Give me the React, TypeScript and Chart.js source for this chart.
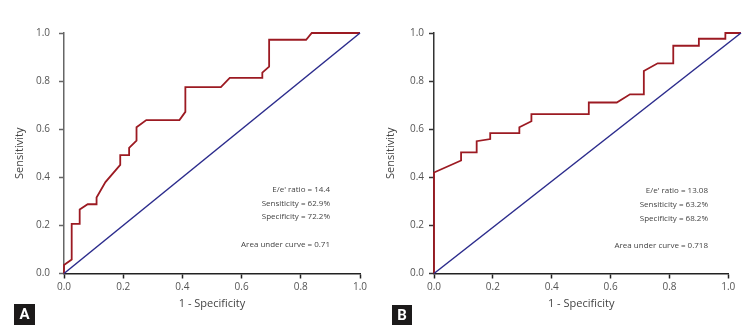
import React, { useEffect, useRef } from 'react';
import { Chart, registerables } from 'chart.js';

Chart.register(...registerables);

// ---- data ----
const axisTicks = [0, 0.2, 0.4, 0.6, 0.8, 1.0];

const rocAx = [0, 0, 0.026, 0.026, 0.053, 0.053, 0.08, 0.11, 0.11, 0.14, 0.19, 0.19, 0.22, 0.22, 0.245, 0.245, 0.278, 0.39, 0.41, 0.41, 0.53, 0.56, 0.67, 0.67, 0.693, 0.693, 0.818, 0.837, 1.0];
const rocAy = [0, 0.035, 0.058, 0.206, 0.206, 0.266, 0.288, 0.288, 0.316, 0.38, 0.452, 0.492, 0.492, 0.522, 0.552, 0.608, 0.638, 0.638, 0.672, 0.775, 0.775, 0.813, 0.813, 0.835, 0.86, 0.972, 0.972, 1.0, 1.0];
const diagAx = [0, 1.0];
const diagAy = [0, 1.0];

const rocBx = [0, 0, 0.092, 0.092, 0.145, 0.145, 0.191, 0.191, 0.29, 0.29, 0.331, 0.331, 0.526, 0.526, 0.621, 0.666, 0.713, 0.713, 0.76, 0.813, 0.813, 0.9, 0.9, 0.99, 0.99, 1.043];
const rocBy = [0, 0.42, 0.47, 0.504, 0.504, 0.55, 0.559, 0.584, 0.584, 0.608, 0.633, 0.663, 0.663, 0.711, 0.711, 0.745, 0.745, 0.842, 0.874, 0.874, 0.947, 0.947, 0.976, 0.976, 1.0, 1.0];
const diagBx = [0, 1.043];
const diagBy = [0, 1.0];

const annotA = ["E/e' ratio = 14.4", 'Sensiticity = 62.9%', 'Specificity = 72.2%', '', 'Area under curve = 0.71'];
const annotB = ["E/e' ratio = 13.08", 'Sensiticity = 63.2%', 'Specificity = 68.2%', '', 'Area under curve = 0.718'];

const xTitle = '1 - Specificity';
const yTitle = 'Sensitivity';

const RED = '#9c1a22';
const BLUE = '#2b2b8c';
const FONT = "'Open Sans', 'Noto Sans', sans-serif";

type PanelCfg = {
  letter: string;
  rocX: number[];
  rocY: number[];
  diagX: number[];
  diagY: number[];
  annot: string[];
  width: number;
  yWidth: number;
  padRight: number;
  yLabelPad: number;
  yTitlePad: number;
  yAxisColor: string;
  annotRight: number;
  annotTop: number;
  annotStep: number;
  box: [number, number, number, number];
};

const toPts = (xs: number[], ys: number[]) => xs.map((x, i) => ({ x, y: ys[i] }));

function makeChart(canvas: HTMLCanvasElement, cfg: PanelCfg) {
  const overlay = {
    id: 'overlay',
    afterDraw(chart: any) {
      const ctx = chart.ctx as CanvasRenderingContext2D;
      ctx.save();
      ctx.font = `8px ${FONT}`;
      ctx.fillStyle = '#444';
      ctx.textAlign = 'right';
      ctx.textBaseline = 'middle';
      cfg.annot.forEach((t, i) => {
        if (t) ctx.fillText(t, cfg.annotRight, cfg.annotTop + i * cfg.annotStep);
      });
      const [bx, by, bw, bh] = cfg.box;
      ctx.fillStyle = '#1c1a1a';
      ctx.fillRect(bx, by, bw, bh);
      ctx.fillStyle = '#ffffff';
      ctx.font = `bold 15px Roboto, sans-serif`;
      ctx.textAlign = 'center';
      ctx.textBaseline = 'middle';
      ctx.fillText(cfg.letter, bx + bw / 2, by + bh / 2 + 1);
      ctx.restore();
    },
  };

  return new Chart(canvas, {
    type: 'scatter',
    data: {
      datasets: [
        {
          data: toPts(cfg.diagX, cfg.diagY),
          showLine: true,
          borderColor: BLUE,
          backgroundColor: BLUE,
          borderWidth: 1.5,
          pointRadius: 0,
          clip: false as any,
        },
        {
          data: toPts(cfg.rocX, cfg.rocY),
          showLine: true,
          borderColor: RED,
          backgroundColor: RED,
          borderWidth: 1.8,
          pointRadius: 0,
          clip: false as any,
        },
      ],
    },
    options: {
      animation: false,
      responsive: false,
      devicePixelRatio: 1,
      layout: { padding: { left: 0, right: cfg.padRight, top: 33, bottom: 0 } },
      plugins: { legend: { display: false }, tooltip: { enabled: false } },
      scales: {
        x: {
          type: 'linear',
          min: 0,
          max: 1,
          afterBuildTicks: (s: any) => {
            s.ticks = axisTicks.map((v) => ({ value: v }));
          },
          afterFit: (s: any) => {
            s.height = 58.5;
          },
          ticks: {
            callback: (v: any) => Number(v).toFixed(1),
            font: { family: FONT, size: 10 },
            color: '#555',
            padding: 3,
            maxRotation: 0,
            autoSkip: false,
          },
          grid: { drawOnChartArea: false, drawTicks: true, tickLength: 5, tickColor: '#222', tickWidth: 1.5 },
          border: { display: true, color: '#222', width: 1.5 },
          title: {
            display: true,
            text: xTitle,
            font: { family: FONT, size: 11 },
            color: '#444',
            padding: { top: 0, bottom: 21.5 },
          },
        },
        y: {
          type: 'linear',
          min: 0,
          max: 1,
          afterBuildTicks: (s: any) => {
            s.ticks = axisTicks.map((v) => ({ value: v }));
          },
          afterFit: (s: any) => {
            s.width = cfg.yWidth;
          },
          ticks: {
            callback: (v: any) => Number(v).toFixed(1),
            font: { family: FONT, size: 10 },
            color: '#555',
            padding: cfg.yLabelPad,
            autoSkip: false,
          },
          grid: { drawOnChartArea: false, drawTicks: true, tickLength: 5, tickColor: cfg.yAxisColor, tickWidth: 1.5 },
          border: { display: true, color: cfg.yAxisColor, width: 1.5 },
          title: {
            display: true,
            text: yTitle,
            font: { family: FONT, size: 11 },
            color: '#444',
            padding: { top: cfg.yTitlePad, bottom: 0 },
          },
        },
      },
    },
    plugins: [overlay],
  } as any);
}

function Panel({ cfg, left }: { cfg: PanelCfg; left: number }) {
  const ref = useRef<HTMLCanvasElement | null>(null);
  useEffect(() => {
    if (!ref.current) return;
    const chart = makeChart(ref.current, cfg);
    return () => chart.destroy();
  }, [cfg]);
  return (
    <canvas
      ref={ref}
      width={cfg.width}
      height={332}
      style={{ position: 'absolute', left, top: 0, width: cfg.width, height: 332 }}
    />
  );
}

const cfgA: PanelCfg = {
  letter: 'A',
  rocX: rocAx,
  rocY: rocAy,
  diagX: diagAx,
  diagY: diagAy,
  annot: annotA,
  width: 376,
  yWidth: 64,
  padRight: 16,
  yLabelPad: 9,
  yTitlePad: 13.4,
  yAxisColor: '#666',
  annotRight: 330,
  annotTop: 190,
  annotStep: 13.6,
  box: [14, 304, 21, 21],
};

const cfgB: PanelCfg = {
  letter: 'B',
  rocX: rocBx,
  rocY: rocBy,
  diagX: diagBx,
  diagY: diagBy,
  annot: annotB,
  width: 377,
  yWidth: 58,
  padRight: 24.7,
  yLabelPad: 5,
  yTitlePad: 8.4,
  yAxisColor: '#333',
  annotRight: 332,
  annotTop: 191,
  annotStep: 13.7,
  box: [16, 305, 20, 20],
};

export default function App() {
  return (
    <div style={{ position: 'fixed', left: 0, top: 0, width: 753, height: 332, background: '#fff' }}>
      <Panel cfg={cfgA} left={0} />
      <Panel cfg={cfgB} left={376} />
    </div>
  );
}
